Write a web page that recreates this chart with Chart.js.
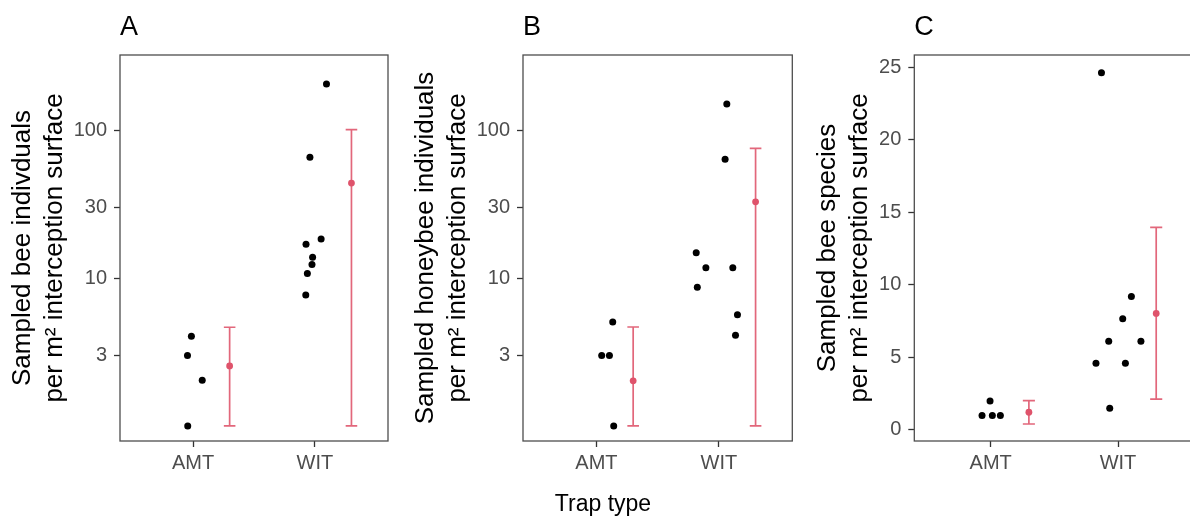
<!DOCTYPE html>
<html><head><meta charset="utf-8">
<script src="https://cdn.jsdelivr.net/npm/chart.js@4/dist/chart.umd.min.js"></script>
<style>
html,body{margin:0;padding:0;background:#fff;overflow:hidden;width:1190px;height:517px;position:relative;font-family:"Liberation Sans",Arial,sans-serif;}
.panel{position:absolute;top:0;width:400px;height:517px;}
#xtitle{position:absolute;left:503px;width:200px;text-align:center;top:492px;font-size:23px;line-height:23px;color:#000;}
</style></head><body>
<div class="panel" style="left:0px"><canvas id="cA" width="400" height="517"></canvas></div>
<div class="panel" style="left:403px"><canvas id="cB" width="400" height="517"></canvas></div>
<div class="panel" style="left:805px"><canvas id="cC" width="400" height="517"></canvas></div>
<div id="xtitle">Trap type</div>
<script>
// ---------- data ----------
const categories = ['AMT', 'WIT'];

// Panel A: bee individuals per m2 (log scale)
const amtA = [4.05, 3.0, 2.04, 1.0];
const amtJitterA = [-0.014, -0.046, 0.075, -0.044];
const witA = [207, 66, 18.5, 17.0, 13.9, 12.4, 10.8, 7.7];
const witJitterA = [0.095, -0.041, 0.051, -0.073, -0.019, -0.024, -0.062, -0.075];
const meanA = [2.55, 44.2];
const lowA = [1.0, 1.0];
const highA = [4.66, 101.6];
const yTicksA = [3, 10, 30, 100];

// Panel B: honeybee individuals per m2 (log scale)
const amtB = [3.0, 3.0, 5.06, 1.0];
const amtJitterB = [0.043, 0.106, 0.133, 0.141];
const witB = [152, 64, 14.9, 11.8, 11.8, 8.7, 5.67, 4.11];
const witJitterB = [0.065, 0.051, -0.185, -0.106, 0.114, -0.176, 0.152, 0.136];
const meanB = [2.02, 33.0];
const lowB = [1.0, 1.0];
const highB = [4.68, 76];
const yTicksB = [3, 10, 30, 100];

// Panel C: bee species per m2 (linear scale)
const amtC = [1.0, 2.0, 1.0, 1.0];
const amtJitterC = [-0.068, -0.005, 0.013, 0.076];
const witC = [24.62, 4.59, 6.12, 7.66, 9.2, 6.12, 4.59, 1.49];
const witJitterC = [-0.13, -0.173, -0.073, 0.037, 0.105, 0.18, 0.058, -0.065];
const meanC = [1.22, 8.03];
const lowC = [0.41, 2.13];
const highC = [2.02, 13.96];
const yTicksC = [0, 5, 10, 15, 20, 25];

// ---------- styling ----------
const DODGE = 0.3;
const CAP = 0.095;
const ERR_COLOR = '#E2677B';
const MEAN_COLOR = '#DF536B';
const FONT = '"Liberation Sans", Arial, sans-serif';

const frame = {
  id: 'frame',
  afterDraw(chart) {
    const {ctx, chartArea: a} = chart;
    ctx.save();
    ctx.strokeStyle = '#4d4d4d';
    ctx.lineWidth = 1.3;
    ctx.strokeRect(a.left, a.top, a.right - a.left, a.bottom - a.top);
    ctx.restore();
  }
};

const errbars = {
  id: 'errbars',
  beforeDatasetsDraw(chart) {
    const e = chart.config._errData;
    if (!e) return;
    const {ctx, scales: {x, y}} = chart;
    ctx.save();
    ctx.strokeStyle = ERR_COLOR;
    ctx.lineWidth = 1.7;
    e.low.forEach((lo, i) => {
      const xc = x.getPixelForValue(i + 1 + DODGE);
      const xl = x.getPixelForValue(i + 1 + DODGE - CAP / 2);
      const xr = x.getPixelForValue(i + 1 + DODGE + CAP / 2);
      const yl = y.getPixelForValue(lo);
      const yh = y.getPixelForValue(e.high[i]);
      ctx.beginPath();
      ctx.moveTo(xc, yl); ctx.lineTo(xc, yh);
      ctx.moveTo(xl, yl); ctx.lineTo(xr, yl);
      ctx.moveTo(xl, yh); ctx.lineTo(xr, yh);
      ctx.stroke();
    });
    ctx.restore();
  }
};

function pts(vals, jit, cat) {
  return vals.map((v, i) => ({x: cat + jit[i], y: v}));
}

function makeChart(id, tag, yTitle, yType, yMin, yMax, yTicks, yWidth, padRight,
                   amt, amtJ, wit, witJ, mean, low, high) {
  const cfg = {
    type: 'scatter',
    data: {
      datasets: [
        {
          data: pts(amt, amtJ, 1).concat(pts(wit, witJ, 2)),
          pointRadius: 3.5, pointBackgroundColor: '#000', pointBorderWidth: 0,
          pointHoverRadius: 3.5
        },
        {
          data: mean.map((m, i) => ({x: i + 1 + DODGE, y: m})),
          pointRadius: 3.4, pointBackgroundColor: MEAN_COLOR, pointBorderWidth: 0,
          pointHoverRadius: 3.4
        }
      ]
    },
    options: {
      responsive: false,
      animation: false,
      events: [],
      layout: {padding: {top: 0, right: padRight, bottom: 0, left: 0}},
      plugins: {
        legend: {display: false},
        tooltip: {enabled: false},
        title: {
          display: true, text: tag, align: 'start', fullSize: false, color: '#000',
          font: {family: FONT, size: 27, weight: 'normal', lineHeight: 1.2},
          padding: {top: 11, bottom: 11.6}
        }
      },
      scales: {
        x: {
          type: 'linear', min: 0.4, max: 2.6,
          afterBuildTicks(s) { s.ticks = categories.map((c, i) => ({value: i + 1})); },
          afterFit(s) { s.height = 76; },
          ticks: {
            callback: (v, i) => categories[i],
            font: {family: FONT, size: 20}, color: '#4D4D4D', padding: 4, maxRotation: 0
          },
          grid: {drawOnChartArea: false, drawTicks: true, tickLength: 6, tickColor: '#333', tickWidth: 1.3},
          border: {display: false}
        },
        y: {
          type: yType, min: yMin, max: yMax,
          afterBuildTicks(s) { s.ticks = yTicks.map(v => ({value: v})); },
          afterFit(s) { s.width = yWidth; },
          ticks: {
            callback: (v) => String(v),
            font: {family: FONT, size: 20}, color: '#4D4D4D', padding: 7
          },
          title: {
            display: true, text: yTitle, color: '#000',
            font: {family: FONT, size: 26, lineHeight: 1.23},
            padding: {top: 7, bottom: 0}
          },
          grid: {drawOnChartArea: false, drawTicks: true, tickLength: 6, tickColor: '#333', tickWidth: 1.3},
          border: {display: false}
        }
      }
    },
    plugins: [errbars, frame]
  };
  cfg._errData = {low, high};
  const ch = new Chart(document.getElementById(id), cfg);
  ch.config._errData = {low, high};
  ch.draw();
  return ch;
}

makeChart('cA', 'A', ['Sampled bee indivduals', 'per m\u00B2 interception surface'],
  'logarithmic', 0.79, 326, yTicksA, 120, 12,
  amtA, amtJitterA, witA, witJitterA, meanA, lowA, highA);
makeChart('cB', 'B', ['Sampled honeybee individuals', 'per m\u00B2 interception surface'],
  'logarithmic', 0.79, 326, yTicksB, 120, 10.7,
  amtB, amtJitterB, witB, witJitterB, meanB, lowB, highB);
makeChart('cC', 'C', ['Sampled bee species', 'per m\u00B2 interception surface'],
  'linear', -0.76, 25.84, yTicksC, 109.3, 10.6,
  amtC, amtJitterC, witC, witJitterC, meanC, lowC, highC);
</script>
</body></html>
